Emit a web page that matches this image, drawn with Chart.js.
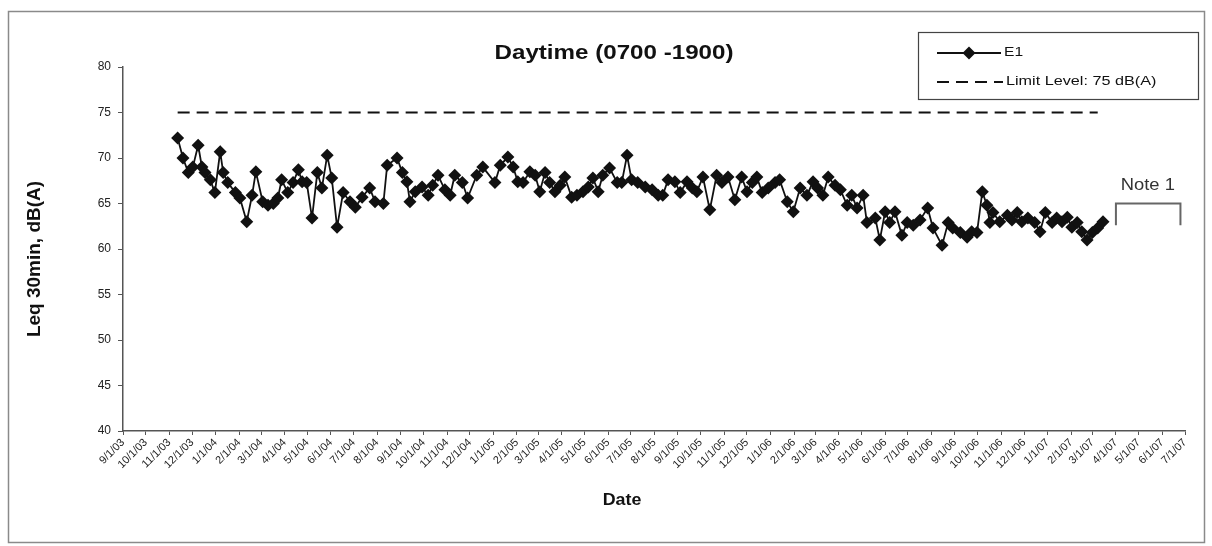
<!DOCTYPE html>
<html><head><meta charset="utf-8">
<script src="https://cdn.jsdelivr.net/npm/chart.js@4.4.1/dist/chart.umd.min.js"></script>
<style>html,body{margin:0;padding:0;background:#fff;}#wrap{width:1212px;height:546px;}</style>
</head><body><div id="wrap"><canvas id="c" width="1212" height="546"></canvas></div>
<script>
const chartTitle = 'Daytime (0700 -1900)';
const yAxisTitle = 'Leq 30min, dB(A)';
const xAxisTitle = 'Date';
const seriesName = 'E1';
const limitName = 'Limit Level: 75 dB(A)';
const noteText = 'Note 1';

const xTickLabels = ['9/1/03','10/1/03','11/1/03','12/1/03','1/1/04','2/1/04','3/1/04','4/1/04','5/1/04','6/1/04','7/1/04','8/1/04','9/1/04','10/1/04','11/1/04','12/1/04','1/1/05','2/1/05','3/1/05','4/1/05','5/1/05','6/1/05','7/1/05','8/1/05','9/1/05','10/1/05','11/1/05','12/1/05','1/1/06','2/1/06','3/1/06','4/1/06','5/1/06','6/1/06','7/1/06','8/1/06','9/1/06','10/1/06','11/1/06','12/1/06','1/1/07','2/1/07','3/1/07','4/1/07','5/1/07','6/1/07','7/1/07'];
const yMin = 40, yMax = 80, yStep = 5;

const e1Dates = [
'2003-11-12','2003-11-19','2003-11-26','2003-12-02','2003-12-09','2003-12-14','2003-12-18','2003-12-25','2003-12-31',
'2004-01-07','2004-01-11','2004-01-17','2004-01-27','2004-02-02','2004-02-11','2004-02-18','2004-02-23','2004-03-03','2004-03-10',
'2004-03-17','2004-03-23','2004-03-28','2004-04-05','2004-04-12','2004-04-19','2004-04-24','2004-04-30','2004-05-07','2004-05-14',
'2004-05-20','2004-05-27','2004-06-02','2004-06-09','2004-06-17','2004-06-26','2004-07-03','2004-07-12','2004-07-22','2004-07-29',
'2004-08-09','2004-08-14','2004-08-27','2004-09-03','2004-09-09','2004-09-13','2004-09-20','2004-09-29','2004-10-07','2004-10-13',
'2004-10-20','2004-10-29','2004-11-05','2004-11-11','2004-11-21','2004-11-28','2004-12-10','2004-12-18',
'2005-01-03','2005-01-10','2005-01-20','2005-01-27','2005-02-02','2005-02-09','2005-02-18','2005-02-25','2005-03-03','2005-03-10',
'2005-03-16','2005-03-23','2005-03-30','2005-04-05','2005-04-14','2005-04-21','2005-04-29','2005-05-06','2005-05-12','2005-05-19',
'2005-05-25','2005-06-03','2005-06-13','2005-06-19','2005-06-26','2005-07-02','2005-07-10','2005-07-20','2005-07-29','2005-08-06',
'2005-08-12','2005-08-19','2005-08-28','2005-09-04','2005-09-13','2005-09-20','2005-09-26','2005-10-04','2005-10-13','2005-10-22',
'2005-10-29','2005-11-06','2005-11-15','2005-11-24','2005-12-01','2005-12-08','2005-12-14','2005-12-21','2005-12-29',
'2006-01-07','2006-01-13','2006-01-23','2006-01-31','2006-02-09','2006-02-18','2006-02-26','2006-03-04','2006-03-11','2006-03-18',
'2006-03-27','2006-04-03','2006-04-12','2006-04-18','2006-04-25','2006-05-03','2006-05-08','2006-05-19','2006-05-25','2006-06-01',
'2006-06-07','2006-06-14','2006-06-23','2006-06-30','2006-07-08','2006-07-17','2006-07-27','2006-08-03','2006-08-15','2006-08-23',
'2006-08-29','2006-09-08','2006-09-17','2006-09-23','2006-09-30','2006-10-07','2006-10-13','2006-10-17','2006-10-21','2006-10-30',
'2006-11-09','2006-11-15','2006-11-22','2006-11-28','2006-12-06','2006-12-15','2006-12-22','2006-12-29',
'2007-01-07','2007-01-13','2007-01-20','2007-01-27','2007-02-02','2007-02-09','2007-02-15','2007-02-22','2007-03-01','2007-03-08','2007-03-15'];

const e1Values = [
72.2,70.0,68.4,69.0,71.4,69.0,68.4,67.6,66.2,
70.7,68.4,67.3,66.2,65.6,63.0,65.9,68.5,65.2,64.8,
65.0,65.6,67.6,66.2,67.3,68.7,67.4,67.3,63.4,68.4,
66.7,70.3,67.8,62.4,66.2,65.2,64.6,65.7,66.7,65.2,
65.0,69.2,70.0,68.4,67.4,65.2,66.3,66.8,65.9,67.0,
68.1,66.5,65.9,68.1,67.3,65.6,68.1,69.0,
67.3,69.2,70.1,69.0,67.4,67.3,68.5,68.1,66.3,68.4,
67.3,66.3,67.0,67.9,65.7,65.9,66.3,66.8,67.8,66.3,
68.1,68.9,67.3,67.3,70.3,67.6,67.3,66.8,66.5,65.9,
65.9,67.6,67.4,66.2,67.4,66.7,66.3,67.9,64.3,68.1,
67.3,67.9,65.4,67.9,66.3,67.3,67.9,66.2,66.7,
67.3,67.6,65.2,64.1,66.7,65.9,67.4,66.7,65.9,67.9,
67.0,66.5,64.8,65.9,64.5,65.9,62.9,63.4,61.0,64.1,
62.9,64.1,61.5,62.9,62.6,63.2,64.5,62.3,60.4,62.9,
62.3,61.8,61.3,61.9,61.8,66.3,64.8,62.9,64.0,63.0,
63.7,63.2,64.0,63.0,63.4,62.9,61.9,64.0,
62.9,63.4,63.0,63.5,62.4,62.9,61.9,61.0,61.8,62.3,63.0];

const limitValue = 75;
const limitDates = ['2003-11-12','2007-03-08'];
const noteDates = ['2007-04-01','2007-06-25'];
const noteLevels = [62.6, 65.0];
const noteLabelDate = '2007-05-13';
const noteLabelLevel = 67.0;

// ---- helpers ----
const ORIGIN = Date.UTC(2003, 8, 1);
function isoDay(s){const [y,m,d]=s.split('-').map(Number);return Math.round((Date.UTC(y,m-1,d)-ORIGIN)/864e5);}
function usDay(s){const [m,d,y]=s.split('/').map(Number);return Math.round((Date.UTC(2000+y,m-1,d)-ORIGIN)/864e5);}
const tickDays = xTickLabels.map(usDay);
const tickLabelByDay = {};
xTickLabels.forEach((l,i)=>{tickLabelByDay[tickDays[i]]=l;});

const FONT = "'Liberation Sans', Arial, sans-serif";

function stretchedText(ctx, text, x, y, font, sx, align){
  ctx.save();
  ctx.font = font; ctx.textAlign = align; ctx.textBaseline = 'middle';
  ctx.translate(x, y); ctx.scale(sx, 1);
  ctx.fillText(text, 0, 0);
  ctx.restore();
}

const decor = {
  id:'decor',
  afterDraw(chart){
    const ctx = chart.ctx, xs = chart.scales.x, ys = chart.scales.y;
    ctx.save();
    // outer frame
    ctx.strokeStyle = '#8a8a8a'; ctx.lineWidth = 1.5;
    ctx.strokeRect(8.5, 11.5, 1196, 531);
    ctx.fillStyle = '#111';
    // title
    stretchedText(ctx, chartTitle, 614, 53, 'bold 21px ' + FONT, 1.15, 'center');
    // x title
    stretchedText(ctx, xAxisTitle, 622, 500, 'bold 17px ' + FONT, 1.05, 'center');
    // y title
    ctx.save(); ctx.translate(35, 259); ctx.rotate(-Math.PI/2);
    ctx.font = 'bold 19px ' + FONT; ctx.textAlign='center'; ctx.textBaseline='middle';
    ctx.fillText(yAxisTitle, 0, 0); ctx.restore();
    // legend
    ctx.strokeStyle = '#444'; ctx.lineWidth = 1.2;
    ctx.strokeRect(918.5, 32.5, 280, 67);
    ctx.strokeStyle = '#111'; ctx.lineWidth = 1.8;
    ctx.beginPath(); ctx.moveTo(937, 53); ctx.lineTo(1001, 53); ctx.stroke();
    ctx.beginPath(); ctx.moveTo(969, 46.5); ctx.lineTo(975.5, 53); ctx.lineTo(969, 59.5); ctx.lineTo(962.5, 53); ctx.closePath(); ctx.fill();
    ctx.lineWidth = 2; ctx.setLineDash([12,7]);
    ctx.beginPath(); ctx.moveTo(937, 82); ctx.lineTo(1003, 82); ctx.stroke();
    ctx.setLineDash([]);
    stretchedText(ctx, seriesName, 1004, 53, '12px ' + FONT, 1.3, 'left');
    stretchedText(ctx, limitName, 1006, 82, '12px ' + FONT, 1.35, 'left');
    // note label
    ctx.fillStyle = '#333';
    stretchedText(ctx, noteText, xs.getPixelForValue(isoDay(noteLabelDate)), ys.getPixelForValue(noteLabelLevel), '17px ' + FONT, 1.08, 'center');
    ctx.restore();
  }
};

const e1Data = e1Dates.map((d,i)=>({x:isoDay(d), y:e1Values[i]}));
const limitData = limitDates.map(d=>({x:isoDay(d), y:limitValue}));
const noteData = [
  {x:isoDay(noteDates[0]), y:noteLevels[0]}, {x:isoDay(noteDates[0]), y:noteLevels[1]},
  {x:isoDay(noteDates[1]), y:noteLevels[1]}, {x:isoDay(noteDates[1]), y:noteLevels[0]}];

new Chart(document.getElementById('c'), {
  type:'line',
  data:{datasets:[
    {label:seriesName, data:e1Data, borderColor:'#111', backgroundColor:'#111', borderWidth:1.8,
     pointStyle:'rectRot', pointRadius:6.5, pointBorderWidth:0, pointBackgroundColor:'#111', tension:0},
    {label:limitName, data:limitData, borderColor:'#111', borderWidth:2, borderDash:[12,7], pointRadius:0},
    {label:'note', data:noteData, borderColor:'#666', borderWidth:2, pointRadius:0}
  ]},
  options:{
    responsive:false, animation:false, devicePixelRatio:1,
    layout:{padding:{left:0, right:27, top:67, bottom:0}},
    plugins:{legend:{display:false}, title:{display:false}, tooltip:{enabled:false}},
    scales:{
      x:{type:'linear', min:tickDays[0], max:tickDays[tickDays.length-1],
        afterBuildTicks:(s)=>{s.ticks = tickDays.map(v=>({value:v}));},
        afterFit:(s)=>{s.height = 115;},
        ticks:{autoSkip:false, minRotation:45, maxRotation:45, padding:1, color:'#222',
          font:{family:FONT, size:11}, callback:(v)=>tickLabelByDay[v] ?? ''},
        grid:{drawOnChartArea:false, drawTicks:true, tickLength:4, color:'#555', lineWidth:1},
        border:{color:'#555', width:1.5}},
      y:{min:yMin, max:yMax,
        afterFit:(s)=>{s.width = 123;},
        ticks:{stepSize:yStep, padding:7, color:'#222', font:{family:FONT, size:12}},
        grid:{drawOnChartArea:false, drawTicks:true, tickLength:5, color:'#555', lineWidth:1},
        border:{color:'#555', width:1.5}}
    }
  },
  plugins:[decor]
});
</script></body></html>
